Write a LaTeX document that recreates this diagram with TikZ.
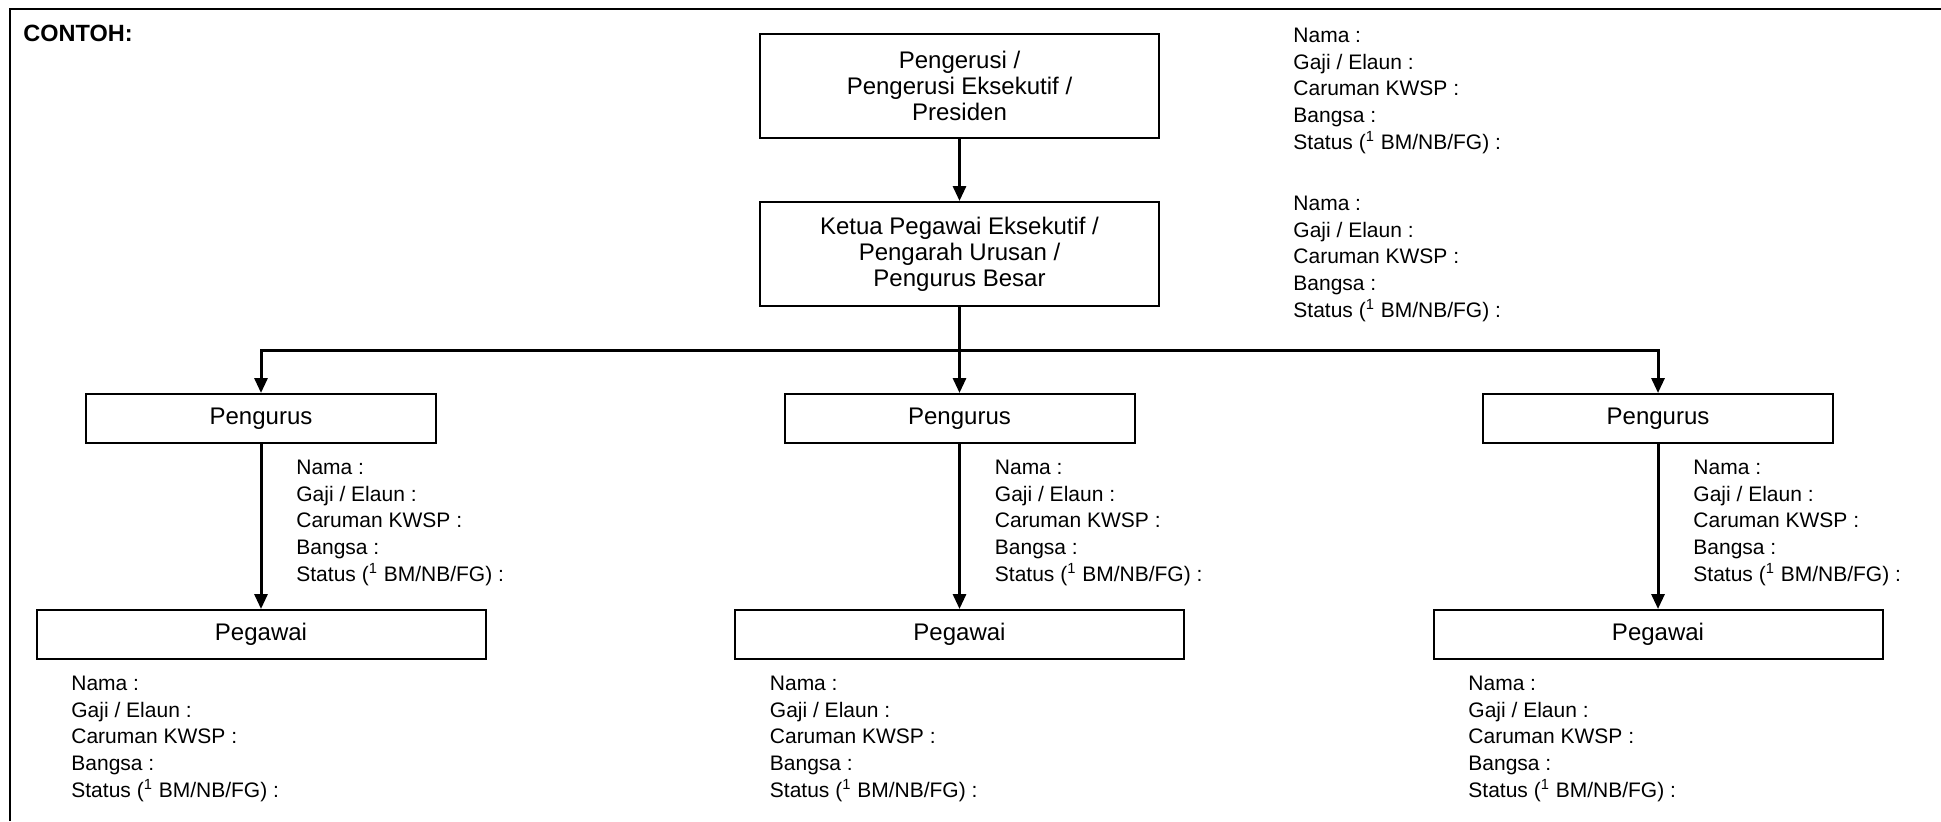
\documentclass[tikz,border=0pt]{standalone}
\usepackage{fontspec}
\setmainfont{Liberation Sans}
\usetikzlibrary{arrows.meta}
\newcommand{\infolines}{Nama :\\Gaji / Elaun :\\Caruman KWSP :\\Bangsa :\\Status (\textsuperscript{1} BM/NB/FG) :}
\begin{document}
\begin{tikzpicture}[x=0.5pt,y=-0.5pt,
  box/.style={draw=black, line width=1pt, align=center, inner sep=0pt,
    font=\fontsize{12}{13}\selectfont},
  infotext/.style={align=left, anchor=north west, inner sep=0pt,
    font=\fontsize{10.5}{13.35}\selectfont},
  arr/.style={line width=1.5pt, -{Triangle[length=7.5pt,width=6.5pt]}},
  conn/.style={line width=1.5pt}]
\useasboundingbox (0,0) rectangle (1941,821);
\draw[line width=1pt] (10,821) -- (10,9) -- (1941,9);
\node[anchor=north west, inner sep=0pt, font=\fontsize{11.75}{13}\selectfont\bfseries] (contoh) at (23,24.6) {CONTOH:};

\node[box, minimum width=199.5pt, minimum height=52pt] (pres) at (959.5,86) {Pengerusi /\\Pengerusi Eksekutif /\\Presiden};
\node[box, minimum width=199.5pt, minimum height=52pt] (kpe) at (959.5,254) {Ketua Pegawai Eksekutif /\\Pengarah Urusan /\\Pengurus Besar};

\node[infotext] (infopres) at (1293,27.5) {\infolines};
\node[infotext] (infokpe) at (1293,195.5) {\infolines};

\foreach \i/\cx in {1/261,2/959.5,3/1658}{
  \node[box, minimum width=175pt, minimum height=24.5pt] (pg\i) at (\cx,418.5) {Pengurus};
  \node[box, minimum width=224.5pt, minimum height=24.5pt] (pw\i) at (\cx,634.5) {Pegawai};
  \node[infotext] (infopg\i) at (\cx+35,459.5) {\infolines};
  \node[infotext] (infopw\i) at (\cx-190,675.5) {\infolines};
  \draw[arr] (pg\i.south) -- (pw\i.north);
}

\coordinate (j) at (959.5,350.5);
\draw[arr] (pres.south) -- (kpe.north);
\draw[arr] (kpe.south) -- (pg2.north);
\draw[arr] (j) -| (pg1.north);
\draw[arr] (j) -| (pg3.north);
\end{tikzpicture}
\end{document}
